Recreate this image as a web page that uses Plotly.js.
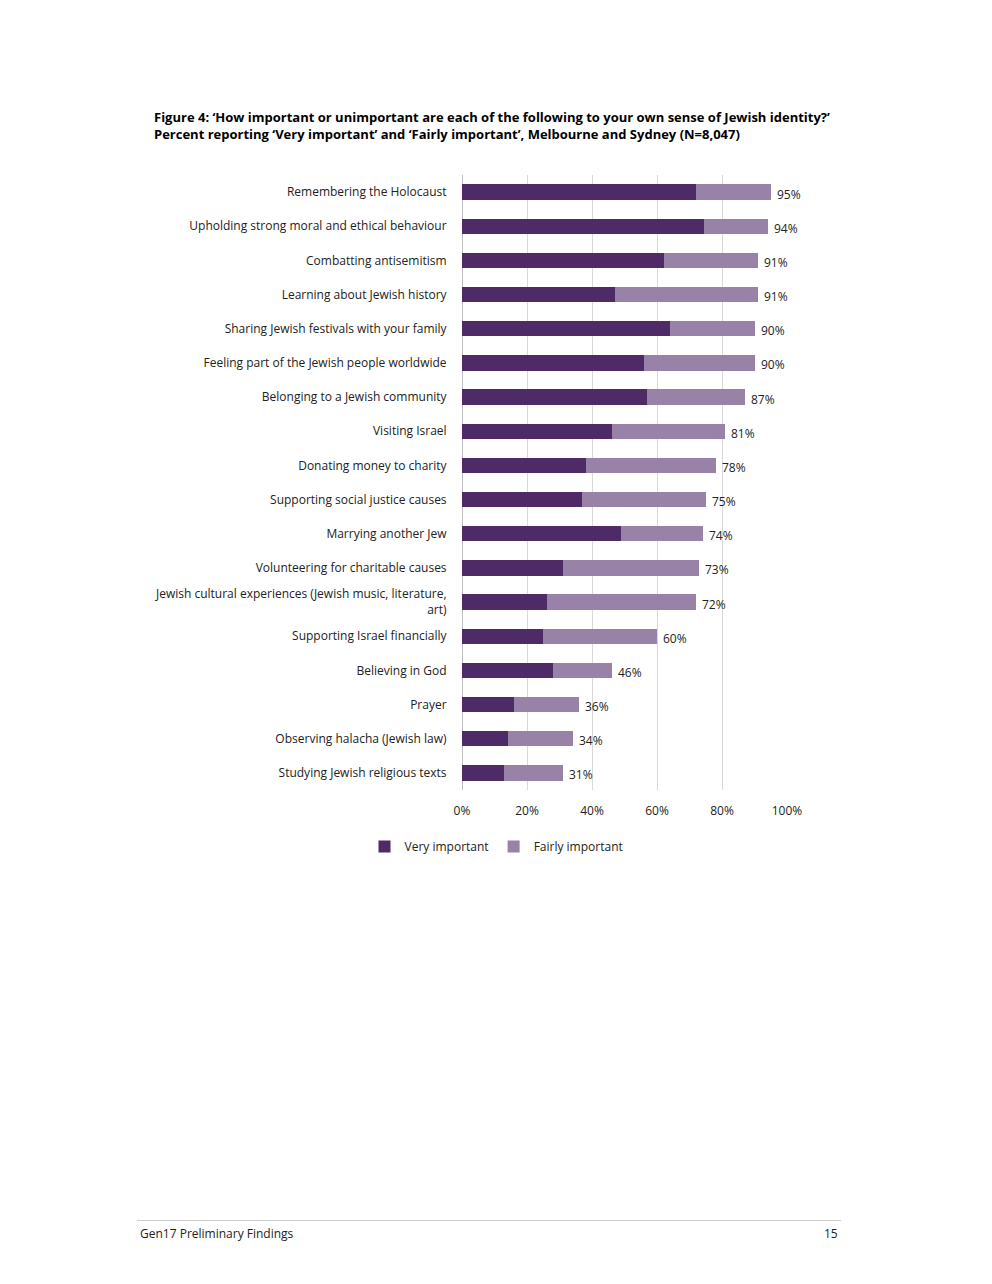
<!DOCTYPE html>
<html>
<head>
<script src="https://cdn.plot.ly/plotly-3.0.1.min.js"></script>
<style>body{margin:0;background:#fff}</style>
</head>
<body>
<div id="chart" style="width:992px;height:1284px"></div>
<script>
// categories top to bottom
var items = ['Remembering the Holocaust', 'Upholding strong moral and ethical behaviour', 'Combatting antisemitism',
  'Learning about Jewish history', 'Sharing Jewish festivals with your family', 'Feeling part of the Jewish people worldwide',
  'Belonging to a Jewish community', 'Visiting Israel', 'Donating money to charity', 'Supporting social justice causes',
  'Marrying another Jew', 'Volunteering for charitable causes', 'Jewish cultural experiences (Jewish music, literature,<br>art)',
  'Supporting Israel financially', 'Believing in God', 'Prayer', 'Observing halacha (Jewish law)', 'Studying Jewish religious texts'];
var very = [72, 74.5, 62, 47, 64, 56, 57, 46, 38, 37, 49, 31, 26, 25, 28, 16, 14, 13];
var total = [95, 94, 91, 91, 90, 90, 87, 81, 78, 75, 74, 73, 72, 60, 46, 36, 34, 31];
var fairly = total.map(function(t, i){ return t - very[i]; });

var font = {family: 'Open Sans, Liberation Sans, sans-serif', size: 12, color: '#222'};

var traces = [
  {type: 'bar', orientation: 'h', name: 'Very important', y: items, x: very,
   marker: {color: '#4e2a66'}, hoverinfo: 'x'},
  {type: 'bar', orientation: 'h', name: 'Fairly important', y: items, x: fairly,
   marker: {color: '#9882a8'}, hoverinfo: 'x'}
];

var annotations = total.map(function(t, i){
  return {x: t, y: items[i], xref: 'x', yref: 'y', text: t + '%', showarrow: false,
    xanchor: 'left', xshift: 4, yshift: -2, font: font};
});
annotations.push({xref: 'paper', yref: 'paper', x: -0.954, y: 1.049, xanchor: 'left', yanchor: 'bottom', align: 'left',
  showarrow: false, font: {family: font.family, size: 13, color: '#000'},
  text: '<b>Figure 4: ‘How important or unimportant are each of the following to your own sense of Jewish identity?’</b><br><b>Percent reporting ‘Very important’ and ‘Fairly important’, Melbourne and Sydney (N=8,047)</b>'});
annotations.push({xref: 'paper', yref: 'paper', x: -0.997, y: -0.7375, xanchor: 'left', showarrow: false,
  text: 'Gen17 Preliminary Findings', font: font});
annotations.push({xref: 'paper', yref: 'paper', x: 1.163, y: -0.7375, xanchor: 'right', showarrow: false,
  text: '15', font: font});

var layout = {
  width: 992, height: 1284,
  margin: {l: 462, r: 205, t: 175, b: 494},
  barmode: 'stack', bargap: 0.55,
  font: font,
  showlegend: true,
  legend: {orientation: 'h', x: -0.3, y: -0.092, xanchor: 'left', yanchor: 'middle', font: font,
    itemwidth: 30, traceorder: 'normal'},
  xaxis: {range: [0, 100], dtick: 20, ticksuffix: '%', showgrid: true, gridcolor: '#d9d9d9',
    zeroline: true, zerolinecolor: '#bfbfbf', fixedrange: true, tickfont: font,
    ticks: 'outside', ticklen: 10, tickcolor: 'rgba(0,0,0,0)'},
  yaxis: {autorange: 'reversed', ticks: 'outside', ticklen: 12, tickcolor: 'rgba(0,0,0,0)', tickfont: font, automargin: false,
    showline: false, fixedrange: true},
  annotations: annotations,
  shapes: [{type: 'line', xref: 'paper', yref: 'paper', x0: -1.0, x1: 1.166, y0: -0.70, y1: -0.70,
    line: {color: '#cccccc', width: 1}}],
  paper_bgcolor: '#fff', plot_bgcolor: '#fff'
};

Plotly.newPlot('chart', traces, layout, {displayModeBar: false});
</script>
</body>
</html>
